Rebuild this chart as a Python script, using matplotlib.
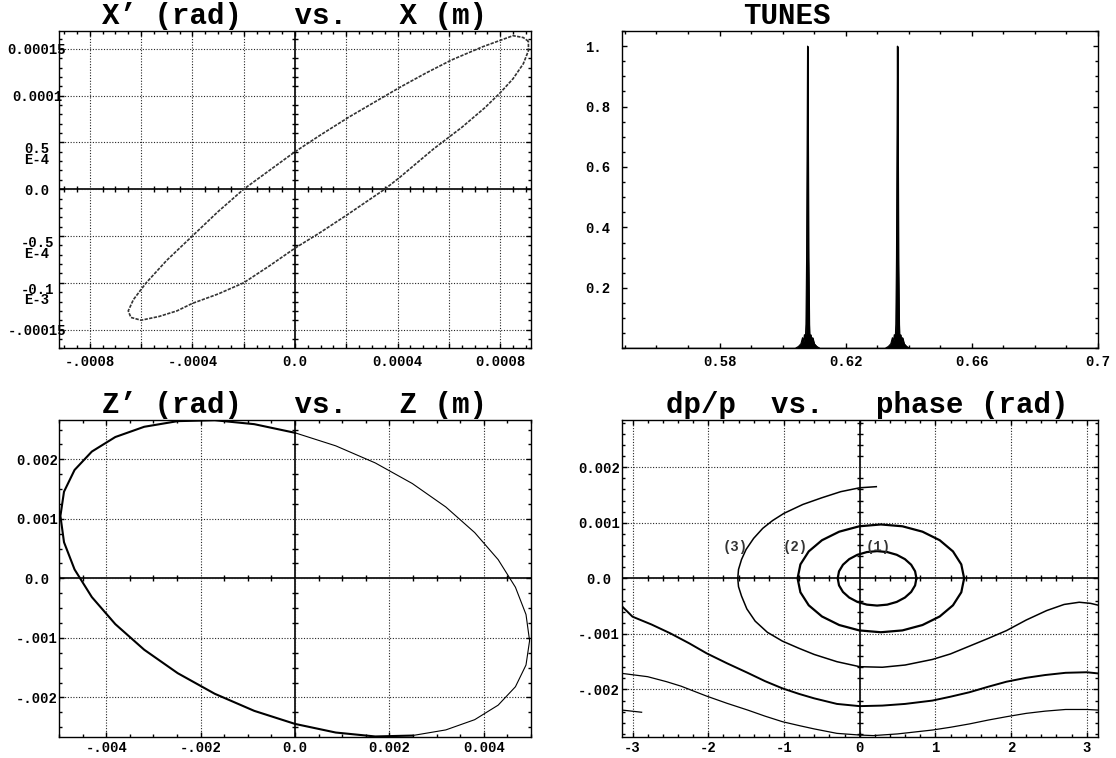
import numpy as np
import matplotlib
matplotlib.use("Agg")
import matplotlib.pyplot as plt
from matplotlib.ticker import MultipleLocator

plt.rcParams['font.family'] = ['Liberation Mono', 'DejaVu Sans Mono']
plt.rcParams['font.weight'] = 'bold'

# ---- data ----
# X' vs X (horizontal phase space, one loop of tracked points)
x_pos = [0.00091, 0.00089, 0.00085, 0.00081, 0.00073, 0.00061, 0.00051, 0.00041, 0.00031,
         0.00021, 0.0001, 0.0, -0.0001, -0.0002, -0.0003, -0.0004, -0.0005, -0.00058,
         -0.00063, -0.00065, -0.00064, -0.0006, -0.00053, -0.00046, -0.0004, -0.0003,
         -0.0002, -0.0001, 0.0, 0.0001, 0.0002, 0.00035, 0.00041, 0.00054, 0.00065,
         0.00074, 0.0008, 0.00085, 0.00089, 0.00091, 0.00091]
x_ang = [0.000158, 0.000162, 0.000164, 0.00016, 0.000152, 0.000138, 0.000124, 0.000109,
         0.000093, 0.000077, 0.000058, 0.00004, 0.00002, 0.0, -0.000024, -0.00005,
         -0.000076, -0.0001, -0.000118, -0.00013, -0.000137, -0.00014, -0.000136,
         -0.00013, -0.000122, -0.000112, -0.0001, -0.000082, -0.000063, -0.000046,
         -0.000028, 0.0, 0.000013, 0.000043, 0.000066, 0.000087, 0.000103, 0.000118,
         0.000134, 0.000148, 0.000158]

# tune spectrum
tune = [0.549, 0.6040, 0.6050, 0.6058, 0.6063, 0.6066, 0.6069, 0.6072, 0.6074, 0.6076,
        0.6078, 0.6079, 0.6080, 0.6082, 0.6084, 0.6086, 0.6089, 0.6092, 0.6095, 0.6100,
        0.6108, 0.6118,
        0.6325, 0.6335, 0.6343, 0.6348, 0.6351, 0.6354, 0.6357, 0.6359, 0.6361,
        0.6363, 0.6364, 0.6365, 0.6367, 0.6369, 0.6371, 0.6374, 0.6377, 0.6380, 0.6385,
        0.6393, 0.6403, 0.70]
ampl = [0.0, 0.0, 0.006, 0.015, 0.035, 0.02, 0.045, 0.03, 0.08, 0.3,
        0.75, 1.0, 0.75, 0.3, 0.08, 0.03, 0.045, 0.02, 0.035, 0.015,
        0.006, 0.0,
        0.0, 0.006, 0.015, 0.035, 0.02, 0.045, 0.03, 0.08, 0.3,
        0.75, 1.0, 0.75, 0.3, 0.08, 0.03, 0.045, 0.02, 0.035, 0.015,
        0.006, 0.0, 0.0]

# Z' vs Z (vertical phase space)
z_pos = [0.00497, 0.004894, 0.00467, 0.004304, 0.003807, 0.003195, 0.002485, 0.0017,
         0.000863, 0.0, -0.000863, -0.0017, -0.002485, -0.003195, -0.003807, -0.004304,
         -0.00467, -0.004894, -0.00497, -0.004894, -0.00467, -0.004304, -0.003807,
         -0.003195, -0.002485, -0.0017, -0.000863, 0.0, 0.000863, 0.0017, 0.002485,
         0.003195, 0.003807, 0.004304, 0.00467, 0.004894]
z_ang = [-0.001048, -0.001456, -0.001821, -0.00213, -0.002374, -0.002546, -0.002641,
         -0.002656, -0.00259, -0.002445, -0.002226, -0.001939, -0.001593, -0.001199,
         -0.000769, -0.000315, 0.000149, 0.000607, 0.001048, 0.001456, 0.001821, 0.00213,
         0.002374, 0.002546, 0.002641, 0.002656, 0.00259, 0.002445, 0.002226, 0.001939,
         0.001593, 0.001199, 0.000769, 0.000315, -0.000149, -0.000607]

# dp/p vs phase, orbits (1) and (2)
orb1_phi = [0.75, 0.7323, 0.6803, 0.5977, 0.49, 0.3646, 0.23, 0.0954, -0.03, -0.1377,
            -0.2203, -0.2723, -0.29, -0.2723, -0.2203, -0.1377, -0.03, 0.0954, 0.23,
            0.3646, 0.49, 0.5977, 0.6803, 0.7323, 0.75]
orb1_dp = [0.0, 0.000127, 0.000245, 0.000346, 0.000424, 0.000473, 0.00049, 0.000473,
           0.000424, 0.000346, 0.000245, 0.000127, 0.0, -0.000127, -0.000245, -0.000346,
           -0.000424, -0.000473, -0.00049, -0.000473, -0.000424, -0.000346, -0.000245,
           -0.000127, 0.0]
orb2_phi = [1.38, 1.3425, 1.2326, 1.0578, 0.83, 0.5647, 0.28, -0.0047, -0.27, -0.4978,
            -0.6726, -0.7825, -0.82, -0.7825, -0.6726, -0.4978, -0.27, -0.0047, 0.28,
            0.5647, 0.83, 1.0578, 1.2326, 1.3425, 1.38]
orb2_dp = [0.0, 0.000251, 0.000485, 0.000686, 0.00084, 0.000937, 0.00097, 0.000937,
           0.00084, 0.000686, 0.000485, 0.000251, 0.0, -0.000251, -0.000485, -0.000686,
           -0.00084, -0.000937, -0.00097, -0.000937, -0.00084, -0.000686, -0.000485,
           -0.000251, 0.0]

# orbit (3), split where the phase wraps at +-pi
orb3_phi = [
    [0.22, 0.0, -0.25, -0.5, -0.75, -1.0, -1.15, -1.28, -1.4, -1.5, -1.56, -1.6, -1.61,
     -1.6, -1.56, -1.49, -1.38, -1.22, -1.02, -0.8, -0.6, -0.3, 0.0, 0.3, 0.6, 0.96,
     1.2, 1.45, 1.7, 1.94, 2.2, 2.47, 2.7, 2.9, 3.05, 3.1416],
    [-3.1416, -3.0, -2.75, -2.5, -2.25, -2.02, -1.75, -1.48, -1.25, -1.02, -0.8, -0.6,
     -0.3, 0.0, 0.3, 0.6, 0.96, 1.2, 1.45, 1.7, 1.94, 2.2, 2.45, 2.72, 3.0, 3.1416],
    [-3.1416, -2.8, -2.55, -2.36, -2.02, -1.75, -1.48, -1.25, -1.02, -0.8, -0.6, -0.3,
     0.0, 0.18, 0.5, 0.96, 1.2, 1.45, 1.7, 1.94, 2.2, 2.45, 2.72, 3.0, 3.1416],
    [-3.1416, -2.88],
]
orb3_dp = [
    [0.00165, 0.00163, 0.00156, 0.00145, 0.00133, 0.00117, 0.00104, 0.0009, 0.00072,
     0.00052, 0.00034, 0.00016, 0.0, -0.00015, -0.00032, -0.00055, -0.00077, -0.00097,
     -0.00113, -0.00126, -0.00137, -0.0015, -0.00159, -0.0016, -0.00156, -0.00146,
     -0.00136, -0.00122, -0.00108, -0.00094, -0.00075, -0.00058, -0.00047, -0.00043,
     -0.00045, -0.00048],
    [-0.0005, -0.00069, -0.00083, -0.00099, -0.00117, -0.00135, -0.00153, -0.0017,
     -0.00185, -0.00198, -0.00208, -0.00216, -0.00226, -0.0023, -0.00229, -0.00226,
     -0.0022, -0.00213, -0.00205, -0.00195, -0.00186, -0.00179, -0.00174, -0.0017,
     -0.00169, -0.00171],
    [-0.00171, -0.00177, -0.00186, -0.00194, -0.00212, -0.00225, -0.00237, -0.00248,
     -0.00258, -0.00265, -0.00271, -0.00279, -0.00282, -0.00283, -0.0028, -0.00273,
     -0.00268, -0.00262, -0.00255, -0.00249, -0.00243, -0.00239, -0.00236, -0.00236,
     -0.00237],
    [-0.00237, -0.00241],
]
orb3_lw = [1.1, 1.4, 0.9, 0.9]
orbit_labels = ['(1)', '(2)', '(3)']
orbit_label_phi = [0.25, -0.85, -1.65]

# tick labels
tl_xticks = [-0.0008, -0.0006, -0.0004, -0.0002, 0.0, 0.0002, 0.0004, 0.0006, 0.0008]
tl_xlabels = ['-.0008', '', '-.0004', '', '0.0', '', '0.0004', '', '0.0008']
tl_yticks = [-0.00015, -0.0001, -0.00005, 0.0, 0.00005, 0.0001, 0.00015]
tl_ylabels = ['-.00015', '-0.1\nE-3', '-0.5\nE-4', '0.0', '0.5\nE-4', '0.0001', '0.00015']
tr_xticks = [0.58, 0.62, 0.66, 0.70]
tr_xlabels = ['0.58', '0.62', '0.66', '0.7']
tr_yticks = [0.2, 0.4, 0.6, 0.8, 1.0]
tr_ylabels = ['0.2', '0.4', '0.6', '0.8', '1.']
bl_xticks = [-0.004, -0.002, 0.0, 0.002, 0.004]
bl_xlabels = ['-.004', '-.002', '0.0', '0.002', '0.004']
bl_yticks = [-0.002, -0.001, 0.0, 0.001, 0.002]
bl_ylabels = ['-.002', '-.001', '0.0', '0.001', '0.002']
br_xticks = [-3, -2, -1, 0, 1, 2, 3]
br_xlabels = ['-3', '-2', '-1', '0', '1', '2', '3']
br_yticks = [-0.002, -0.001, 0.0, 0.001, 0.002]
br_ylabels = ['-.002', '-.001', '0.0', '0.001', '0.002']

W, H = 1116, 758
fig = plt.figure(figsize=(W / 100, H / 100), dpi=100)


def rect(l, t, r, b):
    return [l / W, 1 - b / H, (r - l) / W, (b - t) / H]


def style(ax, xt, xl, yt, yl, xminor, yminor, ypad, xpad=5, yha='center', grid=True,
          center=True):
    ax.set_xticks(xt, xl)
    ax.set_yticks(yt, yl)
    ax.xaxis.set_minor_locator(MultipleLocator(xminor))
    ax.yaxis.set_minor_locator(MultipleLocator(yminor))
    ax.tick_params(which='both', direction='in', top=True, right=True, width=1,
                   labelsize=10, color='black')
    ax.tick_params(which='major', length=3.5)
    ax.tick_params(which='minor', length=2.2)
    ax.tick_params(axis='x', pad=xpad)
    ax.tick_params(axis='y', pad=ypad)
    for lbl in ax.get_yticklabels():
        lbl.set_ha(yha)
        lbl.set_linespacing(0.7)
        if '\n' in lbl.get_text():
            lbl.set_va('top')
    for s in ax.spines.values():
        s.set_linewidth(1.0)
    if grid:
        ax.grid(True, which='major', color='0.15', lw=0.8, ls=(0, (1, 1.5)))
    if center:
        ax.axhline(0, color='black', lw=1.2, zorder=1.5)
        ax.axvline(0, color='black', lw=1.2, zorder=1.5)
        xlo, xhi = ax.get_xlim()
        ylo, yhi = ax.get_ylim()
        xs = [v for v in ax.xaxis.get_minorticklocs() if xlo < v < xhi]
        ys = [v for v in ax.yaxis.get_minorticklocs() if ylo < v < yhi]
        ax.plot(xs, np.zeros(len(xs)), ls='none', marker='|', ms=5, mew=1, color='black')
        ax.plot(np.zeros(len(ys)), ys, ls='none', marker='_', ms=5, mew=1, color='black')


# top left: X' vs X
ax1 = fig.add_axes(rect(59, 31, 531, 348.3))
ax1.plot(x_pos, x_ang, color='0.2', lw=1.2, ls=(0, (2, 0.8)), zorder=3)
ax1.set_xlim(-0.00092, 0.00092)
ax1.set_ylim(-0.00017, 0.000169)
style(ax1, tl_xticks, tl_xlabels, tl_yticks, tl_ylabels, 0.00005, 0.00001, 15.8)
ax1.set_title('X\u2019 (rad)   vs.   X (m)', fontsize=21, fontweight='bold', pad=5)

# top right: tunes
ax2 = fig.add_axes(rect(621.8, 31, 1098, 348.3))
ax2.fill_between(tune, ampl, color='black', lw=0.8)
ax2.plot(tune, ampl, color='black', lw=0.8)
ax2.set_xlim(0.549, 0.70)
ax2.set_ylim(0.0, 1.05)
style(ax2, tr_xticks, tr_xlabels, tr_yticks, tr_ylabels, 0.01, 0.05, 26.5,
      yha='left', grid=False, center=False)
ax2.set_title('TUNES', fontsize=21, fontweight='bold', pad=5, x=0.346)

# bottom left: Z' vs Z
ax3 = fig.add_axes(rect(59, 420, 531, 736.7))
zx = np.array(z_pos + z_pos[:1])
zy = np.array(z_ang + z_ang[:1])
ax3.plot(zx[6:28], zy[6:28], color='black', lw=1.5, zorder=3)
ax3.plot(np.r_[zx[27:], zx[1:7]], np.r_[zy[27:], zy[1:7]], color='black', lw=0.8, zorder=3)
ax3.set_xlim(-0.005, 0.005)
ax3.set_ylim(-0.00266, 0.00266)
style(ax3, bl_xticks, bl_xlabels, bl_yticks, bl_ylabels, 0.0005, 0.00025, 15.8, xpad=3)
ax3.set_title('Z\u2019 (rad)   vs.   Z (m)', fontsize=21, fontweight='bold', pad=5)

# bottom right: dp/p vs phase
ax4 = fig.add_axes(rect(621.8, 420, 1097.5, 736.7))
ax4.plot(orb1_phi, orb1_dp, color='black', lw=1.6, zorder=3)
ax4.plot(orb2_phi, orb2_dp, color='black', lw=1.6, zorder=3)
for ph, dp, lw in zip(orb3_phi, orb3_dp, orb3_lw):
    ax4.plot(ph, dp, color='black', lw=lw, zorder=3)
for lab, ph in zip(orbit_labels, orbit_label_phi):
    ax4.text(ph, 0.00057, lab, fontsize=10, fontweight='bold', ha='center', va='center',
             color='0.2')
ax4.set_xlim(-np.pi, np.pi)
ax4.set_ylim(-0.00285, 0.00285)
style(ax4, br_xticks, br_xlabels, br_yticks, br_ylabels, 0.2, 0.0002, 16.4, xpad=3)
ax4.set_title('dp/p  vs.   phase (rad)', fontsize=21, fontweight='bold', pad=5, x=0.515)

fig.savefig('out.png', dpi=100)
